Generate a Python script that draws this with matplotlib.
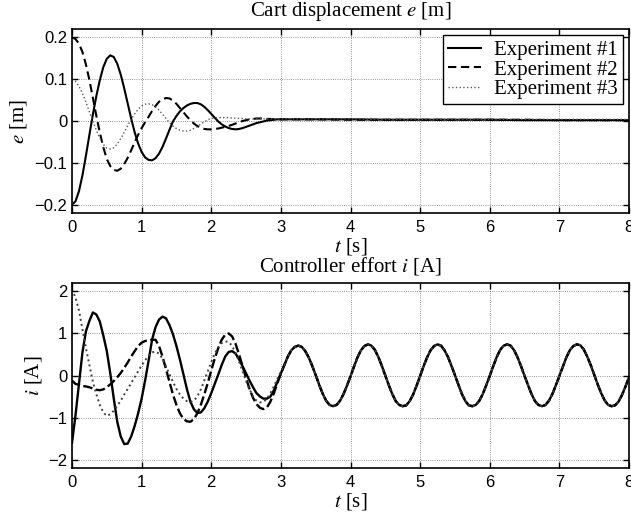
import numpy as np
import matplotlib
matplotlib.use('Agg')
import matplotlib.pyplot as plt

plt.rcParams['font.family'] = ['Liberation Sans', 'DejaVu Sans']
plt.rcParams['mathtext.fontset'] = 'stix'

# time grids (s)
t_head = np.round(np.arange(0, 3.001, 0.05), 2)
t_top_tail = [3.5, 4.0, 4.5, 5.0, 5.5, 6.0, 6.5, 7.0, 7.5, 8.0]
t_bot_tail = np.round(np.arange(3.05, 8.001, 0.05), 2)

# cart displacement e [m]
e_exp1 = [-0.200, -0.192, -0.168, -0.130, -0.083, -0.033, 0.016, 0.060, 0.098, 0.129,
          0.149, 0.157, 0.153, 0.137, 0.111, 0.078, 0.042, 0.006, -0.027, -0.054,
          -0.074, -0.087, -0.093, -0.094, -0.089, -0.078, -0.062, -0.042, -0.021, -0.001,
          0.012, 0.023, 0.031, 0.037, 0.041, 0.043, 0.043, 0.040, 0.034, 0.026,
          0.017, 0.008, -0.001, -0.008, -0.013, -0.017, -0.019, -0.020, -0.019, -0.017,
          -0.014, -0.011, -0.008, -0.005, -0.003, -0.001, 0.001, 0.002, 0.003, 0.004,
          0.004,
          0.004, 0.004, 0.003, 0.003, 0.003, 0.003, 0.002, 0.002, 0.002, 0.002]
e_exp2 = [0.200, 0.196, 0.185, 0.165, 0.135, 0.098, 0.055, 0.012, -0.028, -0.063,
          -0.091, -0.108, -0.117, -0.119, -0.114, -0.103, -0.088, -0.070, -0.051, -0.033,
          -0.017, -0.003, 0.010, 0.024, 0.036, 0.046, 0.052, 0.055, 0.054, 0.049,
          0.041, 0.031, 0.021, 0.011, 0.002, -0.006, -0.012, -0.016, -0.019, -0.020,
          -0.020, -0.019, -0.018, -0.016, -0.014, -0.012, -0.009, -0.006, -0.003, 0.000,
          0.002, 0.004, 0.005, 0.006, 0.006, 0.006, 0.005, 0.005, 0.004, 0.004,
          0.004,
          0.004, 0.003, 0.003, 0.003, 0.003, 0.003, 0.003, 0.002, 0.002, 0.002]
e_exp3 = [0.100, 0.095, 0.083, 0.066, 0.045, 0.022, -0.001, -0.022, -0.041, -0.056,
          -0.065, -0.067, -0.064, -0.055, -0.042, -0.027, -0.011, 0.004, 0.017, 0.028,
          0.036, 0.040, 0.041, 0.039, 0.034, 0.026, 0.016, 0.006, -0.004, -0.012,
          -0.018, -0.022, -0.024, -0.024, -0.022, -0.018, -0.013, -0.007, -0.002, 0.003,
          0.006, 0.007, 0.008, 0.008, 0.008, 0.008, 0.007, 0.007, 0.006, 0.006,
          0.005, 0.005, 0.005, 0.005, 0.005, 0.005, 0.005, 0.005, 0.005, 0.005,
          0.005,
          0.005, 0.005, 0.004, 0.004, 0.004, 0.004, 0.004, 0.004, 0.004, 0.004]

# controller effort i [A], first 3 s per experiment
i_exp1 = [-1.60, -0.95, -0.20, 0.55, 1.05, 1.30, 1.50, 1.45, 1.28, 0.95,
          0.58, 0.05, -0.55, -1.10, -1.45, -1.63, -1.62, -1.45, -1.20, -0.90,
          -0.55, -0.12, 0.35, 0.85, 1.15, 1.33, 1.40, 1.36, 1.20, 0.98,
          0.70, 0.38, 0.03, -0.32, -0.62, -0.80, -0.89, -0.88, -0.78, -0.62,
          -0.42, -0.20, 0.02, 0.25, 0.45, 0.56, 0.58, 0.52, 0.38, 0.22,
          0.05, -0.12, -0.28, -0.42, -0.50, -0.55, -0.55, -0.50, -0.35, -0.15,
          0.05]
i_exp2 = [-0.12, -0.20, -0.22, -0.25, -0.26, -0.28, -0.31, -0.34, -0.35, -0.33,
          -0.28, -0.21, -0.13, -0.04, 0.06, 0.18, 0.31, 0.45, 0.58, 0.70,
          0.78, 0.82, 0.84, 0.85, 0.85, 0.70, 0.45, 0.15, -0.15, -0.45,
          -0.70, -0.90, -1.03, -1.09, -1.10, -1.04, -0.90, -0.70, -0.45, -0.18,
          0.12, 0.40, 0.65, 0.85, 0.97, 1.00, 0.93, 0.75, 0.50, 0.22,
          -0.06, -0.32, -0.53, -0.68, -0.77, -0.80, -0.76, -0.62, -0.42, -0.18,
          0.05]
i_exp3 = [2.05, 1.85, 1.55, 1.10, 0.65, 0.25, -0.15, -0.45, -0.70, -0.88,
          -0.96, -0.92, -0.84, -0.72, -0.60, -0.45, -0.32, -0.18, -0.04, 0.10,
          0.24, 0.36, 0.47, 0.55, 0.57, 0.52, 0.40, 0.22, 0.03, -0.15,
          -0.32, -0.45, -0.55, -0.61, -0.63, -0.60, -0.50, -0.33, -0.12, 0.10,
          0.32, 0.52, 0.67, 0.77, 0.81, 0.80, 0.70, 0.54, 0.33, 0.10,
          -0.13, -0.33, -0.50, -0.60, -0.64, -0.63, -0.55, -0.42, -0.26, -0.08,
          0.10]
# after ~3 s the three experiments overlap
i_tail = [0.25, 0.45, 0.60, 0.68, 0.71, 0.68, 0.58, 0.43, 0.23, 0.01,
          -0.22, -0.43, -0.60, -0.70, -0.73, -0.70, -0.60, -0.44, -0.24, -0.02,
          0.21, 0.43, 0.60, 0.70, 0.74, 0.71, 0.61, 0.44, 0.23, 0.00,
          -0.23, -0.44, -0.61, -0.70, -0.73, -0.71, -0.61, -0.45, -0.24, -0.01,
          0.22, 0.43, 0.60, 0.70, 0.74, 0.71, 0.60, 0.44, 0.23, 0.01,
          -0.22, -0.44, -0.61, -0.71, -0.73, -0.70, -0.60, -0.44, -0.23, -0.01,
          0.22, 0.44, 0.61, 0.71, 0.74, 0.71, 0.60, 0.43, 0.22, -0.01,
          -0.23, -0.44, -0.61, -0.70, -0.73, -0.70, -0.60, -0.44, -0.23, -0.01,
          0.21, 0.43, 0.60, 0.70, 0.74, 0.72, 0.62, 0.45, 0.25, 0.02,
          -0.21, -0.42, -0.59, -0.70, -0.73, -0.71, -0.62, -0.46, -0.26, -0.04]

labels = ['Experiment #1', 'Experiment #2', 'Experiment #3']
e_ticks = [-0.2, -0.1, 0, 0.1, 0.2]
e_ticklabels = ['\u22120.2', '\u22120.1', '0', '0.1', '0.2']
i_ticks = [-2, -1, 0, 1, 2]

serif = ['Liberation Serif', 'DejaVu Serif']
fs = 15

fig = plt.figure(figsize=(6.31, 5.16), dpi=100)
ax1 = fig.add_axes([72/631, 303/516, 557/631, 184/516])
ax2 = fig.add_axes([72/631, 48/516, 557/631, 185/516])

t_top = np.concatenate([t_head, t_top_tail])
t_bot = np.concatenate([t_head, t_bot_tail])

ax1.plot(t_top, e_exp1, color='k', lw=1.5, ls='-', label=labels[0])
ax1.plot(t_top, e_exp2, color='k', lw=1.5, ls=(0, (4, 2.2)), label=labels[1])
ax1.plot(t_top, e_exp3, color='0.35', lw=1.0, ls=':', label=labels[2])

ax2.plot(t_bot, i_exp1 + i_tail, color='k', lw=1.7, ls='-')
ax2.plot(t_bot, i_exp2 + i_tail, color='k', lw=1.7, ls=(0, (4, 1.5)))
ax2.plot(t_bot, i_exp3 + i_tail, color='0.25', lw=1.4, ls=':')

for ax in (ax1, ax2):
    ax.set_xlim(0, 8)
    ax.set_xticks(range(9))
    ax.grid(True, ls=':', lw=0.6, color='0.45')
    ax.tick_params(direction='in', top=True, right=True, length=4, width=1,
                   labelsize=12)
    ax.tick_params(axis='x', pad=5)
    for s in ax.spines.values():
        s.set_linewidth(1.2)
    ax.set_xlabel('$t$ [s]', family=serif, fontsize=fs, labelpad=1)

ax1.set_ylim(-0.22, 0.22)
ax1.set_yticks(e_ticks)
ax1.set_yticklabels(e_ticklabels)
ax1.set_ylabel('$e$ [m]', family=serif, fontsize=fs, labelpad=4)
ax1.set_title('Cart displacement $e$ [m]', family=serif, fontsize=fs, pad=9)

ax2.set_ylim(-2.2, 2.2)
ax2.set_yticks(i_ticks)
ax2.set_ylabel('$i$ [A]', family=serif, fontsize=fs, labelpad=3)
ax2.set_title('Controller effort $i$ [A]', family=serif, fontsize=fs, pad=8)

leg = ax1.legend(loc='upper right', prop={'family': serif, 'size': fs},
                 fancybox=False, framealpha=1, edgecolor='k',
                 borderaxespad=0.3, handlelength=1.6, labelspacing=0.0,
                 borderpad=0.25, handletextpad=0.6)
leg.get_frame().set_linewidth(1.0)

fig.savefig('out.png', dpi=100)
